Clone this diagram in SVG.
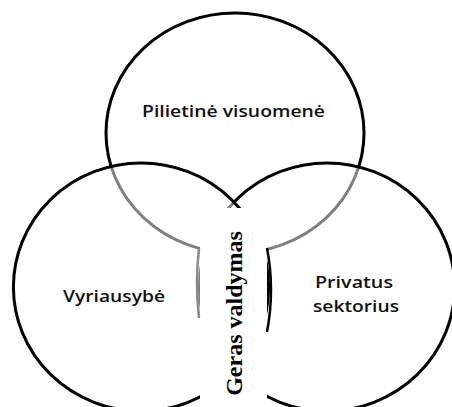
<svg xmlns="http://www.w3.org/2000/svg" width="452" height="407" viewBox="0 0 452 407">
<style>
.c{fill:#fff;fill-opacity:0.5;stroke:#000;stroke-width:3}
.t{font-family:"Open Sans","Liberation Sans",sans-serif;font-size:17px;fill:#111;text-anchor:middle;font-weight:600}
.g{font-family:"Liberation Serif","Times New Roman",serif;font-size:24px;font-weight:bold;fill:#000;text-anchor:middle}
</style>
<rect width="452" height="407" fill="#fff"/>
<g id="pilietine">
<ellipse class="c" cx="235" cy="133" rx="129" ry="120"/>
<text class="t" x="233.5" y="116.5" textLength="183" lengthAdjust="spacingAndGlyphs" font-weight="500">Pilietinė visuomenė</text>
</g>
<g id="privatus">
<ellipse class="c" cx="327" cy="287" rx="127.6" ry="124"/>
<text class="t" x="354" y="288" textLength="78" lengthAdjust="spacingAndGlyphs">Privatus</text>
<text class="t" x="356" y="312" textLength="86" lengthAdjust="spacingAndGlyphs">sektorius</text>
</g>
<g id="vyriausybe">
<ellipse class="c" cx="141" cy="287" rx="127.6" ry="124"/>
<text class="t" x="114" y="302" textLength="102" lengthAdjust="spacingAndGlyphs">Vyriausybė</text>
</g>
<g id="geras-valdymas">
<rect x="200" y="208" width="67" height="200" fill="#fff"/>
<path d="M199,248 Q195,283 199,318" fill="none" stroke="#888" stroke-width="2.5"/>
<path d="M267,248 Q275,290 267,332" fill="none" stroke="#000" stroke-width="2.5"/>
<text class="g" transform="translate(242,313.5) rotate(-90)">Geras valdymas</text>
</g>
<g id="connectors"/>
</svg>
